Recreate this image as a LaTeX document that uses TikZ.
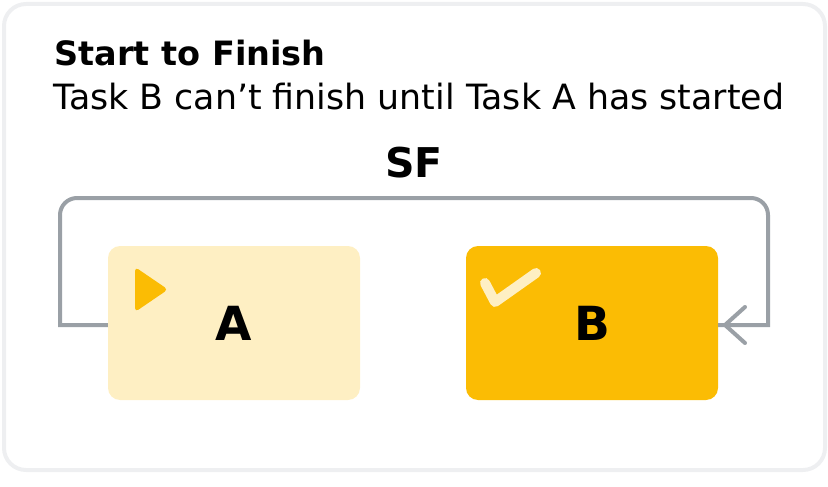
\documentclass[tikz,border=0pt]{standalone}
\usepackage{fontspec}
\setmainfont{DejaVu Sans}
\usetikzlibrary{positioning, arrows.meta}

\definecolor{cardline}{HTML}{EEEFF1}
\definecolor{lightamber}{HTML}{FEEFC3}
\definecolor{amber}{HTML}{FBBC04}
\definecolor{linkgray}{HTML}{9AA0A6}

\begin{document}
\begin{tikzpicture}[x=1pt,y=-1pt,
    task/.style={rounded corners=12pt, minimum width=252pt, minimum height=154pt,
      font=\fontsize{47}{50}\selectfont\bfseries, inner sep=0pt},
    link/.style={draw=linkgray, line width=4pt}]
  \useasboundingbox (0,0) rectangle (828,487);
  \draw[cardline, line width=4pt, rounded corners=22pt] (4,4) rectangle (825,470);

  \node[anchor=base west, font=\fontsize{33.5}{36}\selectfont\bfseries] (title) at (51,66) {Start to Finish};
  \node[anchor=base west, font=\fontsize{34.8}{38}\selectfont] (sub) at (50,110) {Task B can’t finish until Task A has started};

  \node[task, fill=lightamber] (a) at (234,323) {A};
  \node[task, fill=amber] (b) at (592,323) {B};
  \node[font=\fontsize{41}{44}\selectfont\bfseries] (sf) at (414,163) {SF};

  % start / finish marks
  \fill[amber, rounded corners=4pt] (135,267) -- (135,312) -- (168,289.5) -- cycle;
  \draw[lightamber, line width=10pt, line cap=round, line join=round]
    (485,283) -- (495,302) -- (536,273);

  % the SF link
  \draw[link] (a.west |- 0,325) -- (60,325) [rounded corners=17pt] -- (60,198) -- (768,198) [sharp corners] -- (768,325) -- (b.east |- 0,325);
  \draw[link, line cap=round, line join=round] (745,307) -- (725,325) -- (745,343);
\end{tikzpicture}
\end{document}
